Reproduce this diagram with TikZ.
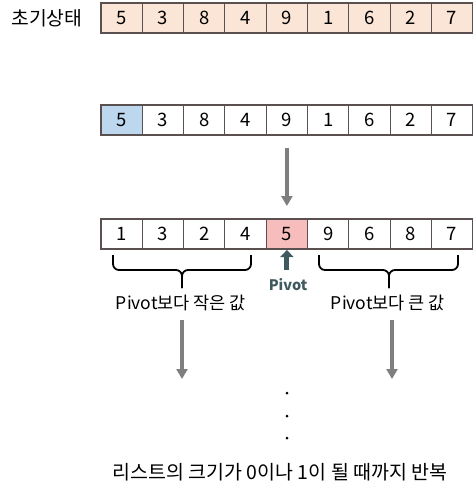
\documentclass[tikz,border=0pt]{standalone}
\usepackage{fontspec}
\setmainfont{Noto Sans CJK KR}
\usetikzlibrary{arrows.meta}
\definecolor{peach}{HTML}{FBE5D6}
\definecolor{cellblue}{HTML}{BDD7EE}
\definecolor{cellpink}{HTML}{F7BDBD}
\definecolor{cellborder}{HTML}{5A5050}
\definecolor{arrowgray}{HTML}{7F7F7F}
\definecolor{pivotcol}{HTML}{3F5A5E}
\tikzset{
  cell/.style={draw=cellborder, line width=1.1pt, minimum width=41.3pt, minimum height=30pt, inner sep=0pt, font=\fontsize{18.5}{19}\selectfont},
  bigarrow/.style={draw=arrowgray, line width=3.5pt, -{Triangle[width=11pt,length=10pt]}},
  pivarrow/.style={draw=pivotcol, line width=5pt, -{Triangle[width=13pt,length=7pt]}},
  bracepath/.style={draw=black, line width=1.8pt, rounded corners=6pt},
  label/.style={font=\fontsize{17.5}{19}\selectfont, inner sep=0pt},
  dotn/.style={circle, fill=black, inner sep=0pt, minimum size=3pt}
}
\begin{document}
\begin{tikzpicture}[x=1pt,y=-1pt]
\useasboundingbox (0,0) rectangle (474,496);
% row 1
\node[label, font=\fontsize{19.3}{20}\selectfont] (title) at (47,18) {초기상태};
\foreach \v [count=\i] in {5,3,8,4,9,1,6,2,7} {
  \node[cell, fill=peach] (ra\i) at ({101+41.3*(\i-0.5)},18) {\v};
}
% row 2
\foreach \v [count=\i] in {5,3,8,4,9,1,6,2,7} {
  \ifnum\i=1
    \node[cell, fill=cellblue] (rb\i) at ({101+41.3*(\i-0.5)},120) {\v};
  \else
    \node[cell, fill=white] (rb\i) at ({101+41.3*(\i-0.5)},120) {\v};
  \fi
}
% row 3
\foreach \v [count=\i] in {1,3,2,4,5,9,6,8,7} {
  \ifnum\i=5
    \node[cell, fill=cellpink] (rc\i) at ({101+41.3*(\i-0.5)},234) {\v};
  \else
    \node[cell, fill=white] (rc\i) at ({101+41.3*(\i-0.5)},234) {\v};
  \fi
}
% arrow row2 -> row3
\coordinate (a1s) at (286.9,148);
\coordinate (a1e) at (286.9,206);
\draw[bigarrow] (a1s) -- (a1e);
% pivot arrow
\coordinate (p1s) at (286.9,270);
\coordinate (p1e) at (286.9,250);
\draw[pivarrow] (p1s) -- (p1e);
\node[font=\bfseries\fontsize{14.5}{16}\selectfont, text=pivotcol, inner sep=0pt] (pivot) at (288,285) {Pivot};
% braces
\draw[bracepath] (113,255) -- (113,270) -- (182,270) -- (182,288);
\draw[bracepath] (182,288) -- (182,270) -- (251,270) -- (251,255);
\draw[bracepath] (319,255) -- (319,270) -- (389,270) -- (389,288);
\draw[bracepath] (389,288) -- (389,270) -- (458,270) -- (458,255);
\node[label] (lsmall) at (181,303) {Pivot보다 작은 값};
\node[label] (lbig) at (388,303) {Pivot보다 큰 값};
% lower arrows
\coordinate (l1s) at (182,320);
\coordinate (l1e) at (182,379);
\coordinate (l2s) at (392,320);
\coordinate (l2e) at (392,379);
\draw[bigarrow] (l1s) -- (l1e);
\draw[bigarrow] (l2s) -- (l2e);
% dots
\node[dotn] (d1) at (287,393) {};
\node[dotn] (d2) at (287,416) {};
\node[dotn] (d3) at (287,438) {};
% bottom text
\node[label, font=\fontsize{19.5}{21}\selectfont] (bottom) at (280,472) {리스트의 크기가 0이나 1이 될 때까지 반복};
\end{tikzpicture}
\end{document}
